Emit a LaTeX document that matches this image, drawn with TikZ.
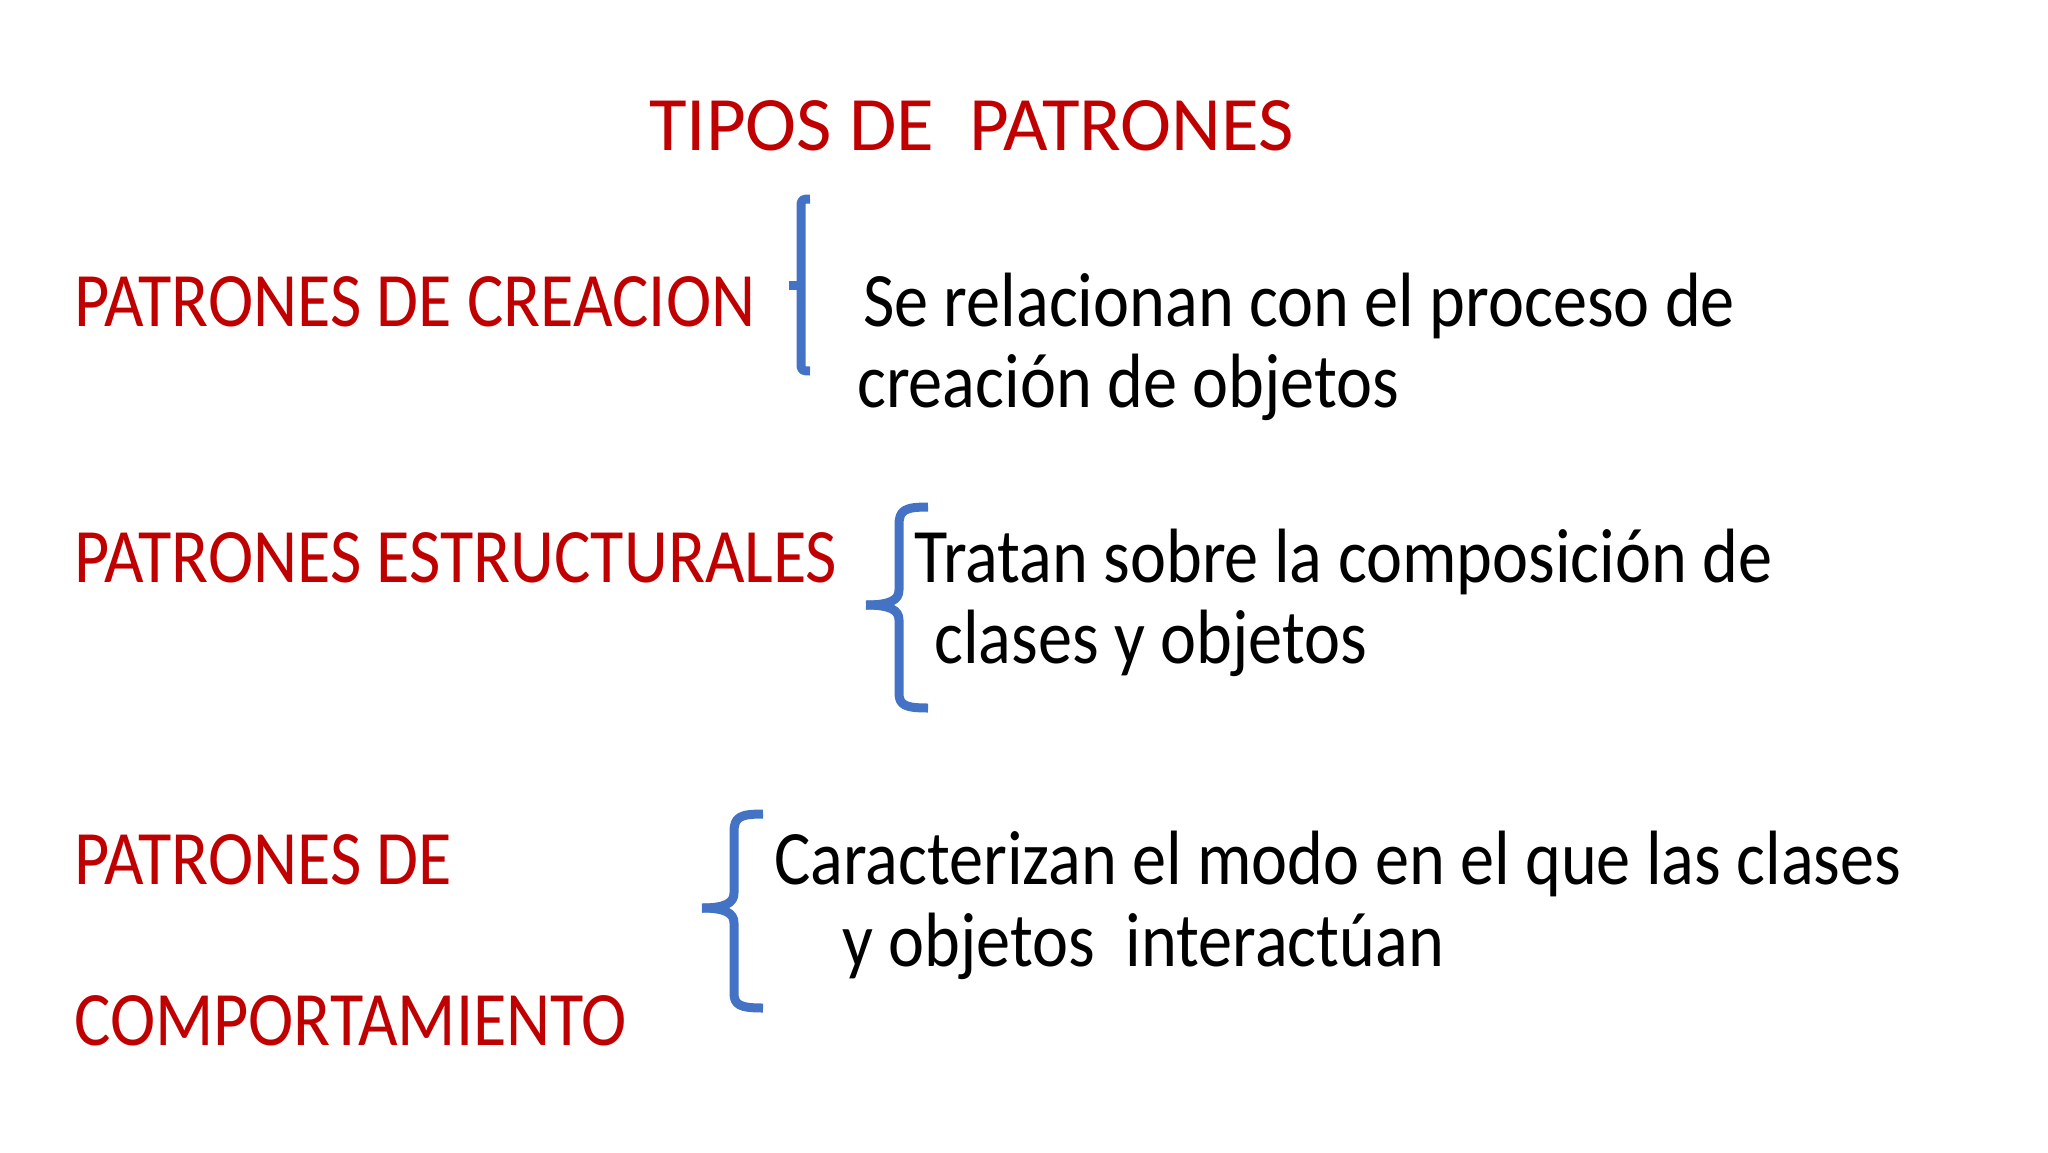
\documentclass[tikz,border=0pt]{standalone}
\usepackage{fontspec}
\setmainfont{Carlito}
\newfontfamily\condfont[FakeStretch=0.886]{Carlito}
\definecolor{ttlred}{HTML}{C00000}
\definecolor{brblue}{HTML}{4472C4}
\begin{document}
\begin{tikzpicture}[x=1pt,y=-1pt,
  txt/.style={anchor=base west,inner sep=0pt,font=\condfont\fontsize{77}{81}\selectfont},
  redtxt/.style={txt,text=ttlred},
  blktxt/.style={txt,text=black},
  brace/.style={draw=brblue,line width=9pt,line cap=butt,line join=round}]
\useasboundingbox[fill=white] (0,0) rectangle (2048,1152);
% title
\node[redtxt,font=\rmfamily\fontsize{77}{81}\selectfont] (title) at (649,150) {TIPOS DE\ \ PATRONES};
% row 1
\node[redtxt] (cre) at (74,326) {PATRONES DE CREACION};
\node[blktxt] (cre1) at (863,326) {Se relacionan con el proceso de};
\node[blktxt] (cre2) at (857,407) {creación de objetos};
% row 2
\node[redtxt] (est) at (74,582) {PATRONES ESTRUCTURALES};
\node[blktxt] (est1) at (914,582) {Tratan sobre la composición de};
\node[blktxt] (est2) at (934,663) {clases y objetos};
% row 3
\node[redtxt] (com1) at (74,884) {PATRONES DE};
\node[redtxt] (com2) at (74,1045) {COMPORTAMIENTO};
\node[blktxt] (comd1) at (774,884) {Caracterizan el modo en el que las clases};
\node[blktxt] (comd2) at (842,966) {y objetos\ \ interactúan};
% braces
\draw[brace] (810,199) .. controls (801,199) and (801,200) .. (801,208) -- (801,362) .. controls (801,370) and (801,371) .. (810,371);
\draw[brace] (789,285) -- (801,285);
\draw[brace] (928,507) .. controls (905,507) and (899,510) .. (899,525) -- (899,590) .. controls (899,600) and (890,605) .. (866,605);
\draw[brace] (866,605) .. controls (890,605) and (899,610) .. (899,620) -- (899,693) .. controls (899,705) and (905,708) .. (928,708);
\draw[brace] (763,814) .. controls (740,814) and (734,817) .. (734,832) -- (734,893) .. controls (734,903) and (725,908) .. (702,908);
\draw[brace] (702,908) .. controls (725,908) and (734,913) .. (734,923) -- (734,993) .. controls (734,1005) and (740,1008) .. (763,1008);
\end{tikzpicture}
\end{document}
